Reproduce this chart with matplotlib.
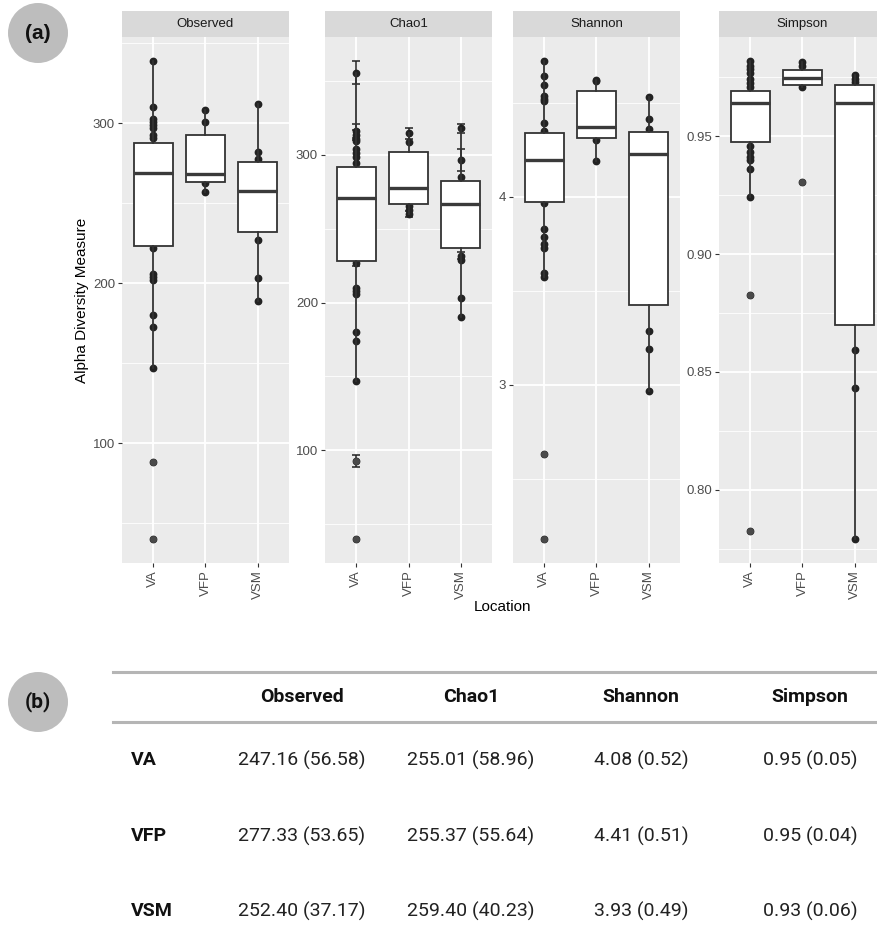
#!/usr/bin/env python3
"""Alpha diversity by location: box plots per metric (a) and a summary table (b)"""

import matplotlib
matplotlib.use("Agg")
import matplotlib.pyplot as plt
from matplotlib.patches import Circle
from matplotlib.lines import Line2D

locations = ["VA", "VFP", "VSM"]
metrics = ["Observed", "Chao1", "Shannon", "Simpson"]

# visible sample points per location
observed_points = [
    [338.8, 309.9, 302.5, 300.7, 298.8, 297.0, 292.6, 290.9, 222.2, 206.0, 203.7,
     202.0, 180.0, 172.8, 146.9, 88.1, 40.2],
    [307.9, 300.7, 262.5, 256.8],
    [311.6, 282.0, 277.8, 226.9, 203.0, 188.9],
]
chao1_points = [
    [355.6, 316.0, 313.4, 310.7, 309.4, 304.0, 301.3, 298.7, 294.7, 226.5, 209.6,
     207.8, 205.9, 180.2, 174.3, 147.0, 92.8, 40.0],
    [314.4, 308.8, 265.2, 262.6, 259.9],
    [317.9, 296.3, 285.3, 231.8, 229.1, 203.2, 190.4],
]
# standard error of Chao1 estimate (error bars); 0 = hidden behind the point
chao1_se = [
    [7.9, 4.5, 3.5, 0, 0, 0, 0, 0, 0, 2.0, 0, 0, 0, 0, 0, 0, 4.0, 0],
    [3.5, 0, 0, 0, 2.0],
    [3.0, 7.4, 0, 2.5, 0, 0, 0],
]
shannon_points = [
    [4.724, 4.642, 4.598, 4.535, 4.520, 4.510, 4.394, 4.352, 3.968, 3.829, 3.789,
     3.750, 3.730, 3.594, 3.573, 2.632, 2.179],
    [4.625, 4.615, 4.305, 4.189],
    [4.531, 4.415, 4.362, 3.284, 3.192, 2.968],
]
simpson_points = [
    [0.982, 0.980, 0.9786, 0.977, 0.9744, 0.9728, 0.9711, 0.946, 0.9435, 0.9413,
     0.9401, 0.936, 0.9242, 0.8827, 0.7823],
    [0.9815, 0.980, 0.9711, 0.9306],
    [0.9761, 0.9744, 0.9731, 0.8594, 0.843, 0.779],
]

# box statistics per location: q1, median, q3, lower whisker, upper whisker, outliers
observed_q1 = [223.0, 263.2, 232.0]
observed_med = [269.0, 267.9, 257.5]
observed_q3 = [287.7, 292.3, 275.8]
observed_lo = [146.9, 256.8, 188.9]
observed_hi = [338.8, 307.9, 311.6]
observed_out = [[88.1, 40.2], [], []]

chao1_q1 = [227.8, 266.8, 236.9]
chao1_med = [271.0, 277.8, 266.6]
chao1_q3 = [292.0, 301.6, 282.1]
chao1_lo = [147.0, 259.9, 190.4]
chao1_hi = [355.6, 314.4, 317.9]
chao1_out = [[92.8, 40.0], [], []]

shannon_q1 = [3.975, 4.316, 3.423]
shannon_med = [4.198, 4.373, 4.227]
shannon_q3 = [4.339, 4.562, 4.347]
shannon_lo = [3.573, 4.189, 2.968]
shannon_hi = [4.724, 4.625, 4.531]
shannon_out = [[2.632, 2.179], [], []]

simpson_q1 = [0.9477, 0.9716, 0.8698]
simpson_med = [0.9641, 0.9748, 0.9641]
simpson_q3 = [0.9693, 0.9781, 0.9719]
simpson_lo = [0.9242, 0.9711, 0.779]
simpson_hi = [0.982, 0.9815, 0.9761]
simpson_out = [[0.8827, 0.7823], [0.9306], []]

y_ticks = [[100, 200, 300], [100, 200, 300], [3, 4], [0.80, 0.85, 0.90, 0.95]]
y_minor = [[50, 150, 250, 350], [50, 150, 250, 350], [2.5, 3.5, 4.5],
           [0.775, 0.825, 0.875, 0.925, 0.975]]
y_ticklabels = [["100", "200", "300"], ["100", "200", "300"], ["3", "4"],
                ["0.80", "0.85", "0.90", "0.95"]]

# table (b): mean (sd)
obs_mean = [247.16, 277.33, 252.40]
obs_sd = [56.58, 53.65, 37.17]
chao_mean = [255.01, 255.37, 259.40]
chao_sd = [58.96, 55.64, 40.23]
shan_mean = [4.08, 4.41, 3.93]
shan_sd = [0.52, 0.51, 0.49]
simp_mean = [0.95, 0.95, 0.93]
simp_sd = [0.05, 0.04, 0.06]

W, H = 878, 947
PANEL_X = [122, 325, 513, 719]  # left edge of each panel, px
PANEL_W = 167
PANEL_TOP, PANEL_BOT = 37, 563
STRIP_TOP = 11
DARK = "#333333"
TICK_GREY = "#4D4D4D"
FONT_A = "Liberation Sans"
FONT_B = "Roboto"

fig = plt.figure(figsize=(W / 100, H / 100), dpi=100)

points_all = [observed_points, chao1_points, shannon_points, simpson_points]
stats_all = [
    (observed_q1, observed_med, observed_q3, observed_lo, observed_hi, observed_out),
    (chao1_q1, chao1_med, chao1_q3, chao1_lo, chao1_hi, chao1_out),
    (shannon_q1, shannon_med, shannon_q3, shannon_lo, shannon_hi, shannon_out),
    (simpson_q1, simpson_med, simpson_q3, simpson_lo, simpson_hi, simpson_out),
]

for k, metric in enumerate(metrics):
    left = PANEL_X[k] / W
    ax = fig.add_axes([left, 1 - PANEL_BOT / H, PANEL_W / W, (PANEL_BOT - PANEL_TOP) / H])
    ax.set_facecolor("#EBEBEB")
    for s in ax.spines.values():
        s.set_visible(False)

    pts = points_all[k]
    lows, highs = [], []
    for i, vals in enumerate(pts):
        xs = [i + 1] * len(vals)
        ax.plot(xs, vals, "o", color="#222222", ms=4.6, zorder=2)
        lows += vals
        highs += vals
        if metric == "Chao1":
            se = chao1_se[i]
            ex = [x for x, e in zip(xs, se) if e > 0]
            ev = [v for v, e in zip(vals, se) if e > 0]
            ee = [e for e in se if e > 0]
            ax.errorbar(ex, ev, yerr=ee, fmt="none", ecolor="#222222",
                        elinewidth=1.1, capsize=3.2, capthick=1.1, zorder=2)
            lows += [v - e for v, e in zip(ev, ee)]
            highs += [v + e for v, e in zip(ev, ee)]

    q1, med, q3, lo, hi, out = stats_all[k]
    bstats = [dict(q1=q1[i], med=med[i], q3=q3[i], whislo=lo[i], whishi=hi[i],
                   fliers=out[i]) for i in range(len(locations))]
    ax.bxp(bstats, positions=[1, 2, 3], widths=0.75, patch_artist=True,
           boxprops=dict(facecolor="white", edgecolor=DARK, lw=1.3),
           medianprops=dict(color="#3A3A3A", lw=2.4, solid_capstyle="butt"),
           whiskerprops=dict(color=DARK, lw=1.3),
           capprops=dict(visible=False),
           flierprops=dict(marker="o", markerfacecolor="#4A4A4A", markeredgecolor="none",
                           markersize=5),
           zorder=3)

    ymin, ymax = min(lows), max(highs)
    pad = 0.05 * (ymax - ymin)
    ax.set_ylim(ymin - pad, ymax + pad)
    ax.set_xlim(0.4, 3.6)

    ax.set_yticks(y_ticks[k])
    ax.set_yticklabels(y_ticklabels[k])
    ax.set_yticks(y_minor[k], minor=True)
    ax.set_xticks([1, 2, 3])
    ax.set_xticklabels(locations, rotation=90)
    ax.set_axisbelow(True)
    ax.grid(True, which="major", color="white", lw=1.3)
    ax.grid(True, which="minor", axis="y", color="white", lw=0.6)
    ax.tick_params(which="major", length=3, width=0.8, color=DARK, labelcolor=TICK_GREY,
                   labelsize=9.5, pad=2)
    ax.tick_params(which="minor", length=0)
    for lab in ax.get_xticklabels() + ax.get_yticklabels():
        lab.set_fontfamily(FONT_A)

    # facet strip
    sax = fig.add_axes([left, 1 - PANEL_TOP / H, PANEL_W / W, (PANEL_TOP - STRIP_TOP) / H])
    sax.set_facecolor("#D9D9D9")
    sax.set_xticks([])
    sax.set_yticks([])
    for s in sax.spines.values():
        s.set_visible(False)
    sax.set_xlim(0.4, 3.6)
    sax.text(2, 0.5, metric, ha="center", va="center", fontsize=9.5, color="#1A1A1A",
             family=FONT_A, transform=sax.get_xaxis_transform())

# overlay in pixel coordinates for labels, badges and the table
ov = fig.add_axes([0, 0, 1, 1], facecolor="none")
ov.set_xlim(0, W)
ov.set_ylim(H, 0)
ov.axis("off")

ov.text(82, 300, "Alpha Diversity Measure", rotation=90, ha="center", va="center",
        fontsize=11, family=FONT_A, color="black")
ov.text(503, 607, "Location", ha="center", va="center", fontsize=11, family=FONT_A,
        color="black")

for cy, lab, fam in [(33, "(a)", FONT_A), (702, "(b)", FONT_B)]:
    ov.add_patch(Circle((38, cy), 30, facecolor="#BDBDBD", edgecolor="none"))
    ov.text(38, cy, lab, ha="center", va="center", fontsize=15, fontweight="bold",
            family=fam, color="#111111")

# table (b)
for ly in (672, 722):
    ov.add_line(Line2D([113, W], [ly, ly], color="#B5B5B5", lw=2.2))

col_x = [302, 471, 641, 810]
row_y = [760, 836, 911]
for cx, name in zip(col_x, metrics):
    ov.text(cx, 697, name, ha="center", va="center", fontsize=14, fontweight="bold",
            family=FONT_B, color="#111111")

means = [obs_mean, chao_mean, shan_mean, simp_mean]
sds = [obs_sd, chao_sd, shan_sd, simp_sd]
for r, loc in enumerate(locations):
    ov.text(131, row_y[r], loc, ha="left", va="center", fontsize=14, fontweight="bold",
            family=FONT_B, color="#111111")
    for c in range(len(metrics)):
        ov.text(col_x[c], row_y[r], f"{means[c][r]:.2f} ({sds[c][r]:.2f})", ha="center",
                va="center", fontsize=14, family=FONT_B, color="#222222")

fig.savefig("out.png", dpi=100)
